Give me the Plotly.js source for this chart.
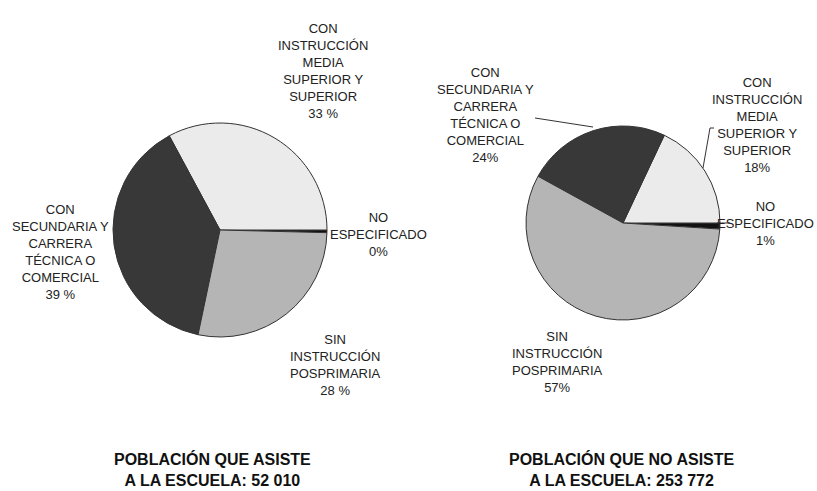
<!DOCTYPE html>
<html>
<head>
<meta charset="utf-8">
<script src="https://cdn.plot.ly/plotly-3.0.1.min.js"></script>
<style>
  body { margin: 0; background: #fff; }
  #chart { width: 817px; height: 491px; }
</style>
</head>
<body>
<div id="chart"></div>
<script>
const W = 817, H = 491;

// plotly puts slice 0 just clockwise of 3 o'clock, the rest run counterclockwise
const categories = [
  'NO ESPECIFICADO',
  'CON INSTRUCCIÓN MEDIA SUPERIOR Y SUPERIOR',
  'CON SECUNDARIA Y CARRERA TÉCNICA O COMERCIAL',
  'SIN INSTRUCCIÓN POSPRIMARIA'
];
const labelLines = [
  'NO<br>ESPECIFICADO',
  'CON<br>INSTRUCCIÓN<br>MEDIA<br>SUPERIOR Y<br>SUPERIOR',
  'CON<br>SECUNDARIA Y<br>CARRERA<br>TÉCNICA O<br>COMERCIAL',
  'SIN<br>INSTRUCCIÓN<br>POSPRIMARIA'
];
const asistePct = [0.4, 33, 39, 28];
const asisteText = ['0%', '33 %', '39 %', '28 %'];
const noAsistePct = [1, 18, 24, 57];
const noAsisteText = ['1%', '18%', '24%', '57%'];
const titles = [
  'POBLACIÓN QUE ASISTE<br>A LA ESCUELA: 52 010',
  'POBLACIÓN QUE NO ASISTE<br>A LA ESCUELA: 253 772'
];

const sliceColors = ['#111111', '#ebebeb', '#383838', '#b5b5b5'];
const FONT = '"Liberation Sans Narrow", "Arial Narrow", "Liberation Sans", Arial, sans-serif';

function px(x) { return x / W; }
function py(y) { return 1 - y / H; }

function pieTrace(values, cx, cy, r) {
  return {
    type: 'pie',
    labels: categories,
    values: values,
    sort: false,
    direction: 'counterclockwise',
    rotation: 90,
    textinfo: 'none',
    hoverinfo: 'label+percent',
    marker: { colors: sliceColors, line: { color: '#333', width: 1 } },
    domain: { x: [px(cx - r), px(cx + r)], y: [py(cy + r), py(cy - r)] },
    showlegend: false
  };
}

// label anchor points in pixels for each chart
const leftPos = [[378, 234, 'center'], [323, 71, 'center'], [60, 252, 'center'], [335, 365, 'center']];
const rightPos = [[816, 223, 'right'], [757, 125, 'center'], [485, 115, 'center'], [557, 362, 'center']];

const annotations = [];
function addLabels(texts, pos) {
  texts.forEach(function (t, i) {
    annotations.push({
      xref: 'paper', yref: 'paper',
      x: px(pos[i][0]), y: py(pos[i][1]),
      xanchor: pos[i][2], yanchor: 'middle', align: 'center',
      text: labelLines[i] + '<br>' + t,
      showarrow: false,
      font: { family: FONT, size: 13, color: '#222' }
    });
  });
}
addLabels(asisteText, leftPos);
addLabels(noAsisteText, rightPos);

[[212, 469], [622, 469]].forEach(function (p, i) {
  annotations.push({
    xref: 'paper', yref: 'paper',
    x: px(p[0]), y: py(p[1]),
    xanchor: 'center', yanchor: 'middle',
    text: '<b>' + titles[i] + '</b>',
    showarrow: false,
    font: { family: FONT, size: 16, color: '#111' }
  });
});

function seg(pts) {
  return pts.map(function (p, i) {
    return (i ? 'L' : 'M') + px(p[0]) + ',' + py(p[1]);
  }).join(' ');
}
const leaderStyle = { color: '#333', width: 1 };
const shapes = [
  { type: 'path', xref: 'paper', yref: 'paper', path: seg([[535, 118], [593, 127]]), line: leaderStyle },
  { type: 'path', xref: 'paper', yref: 'paper', path: seg([[714, 128], [710, 128], [703, 168]]), line: leaderStyle },
  { type: 'path', xref: 'paper', yref: 'paper', path: seg([[717, 223], [730, 223]]), line: leaderStyle }
];

const data = [
  pieTrace(asistePct, 220, 230, 107),
  pieTrace(noAsistePct, 623, 223, 97)
];

const layout = {
  width: W,
  height: H,
  margin: { l: 0, r: 0, t: 0, b: 0 },
  paper_bgcolor: '#fff',
  annotations: annotations,
  shapes: shapes
};

Plotly.newPlot('chart', data, layout, { displayModeBar: false, staticPlot: true });
</script>
</body>
</html>
